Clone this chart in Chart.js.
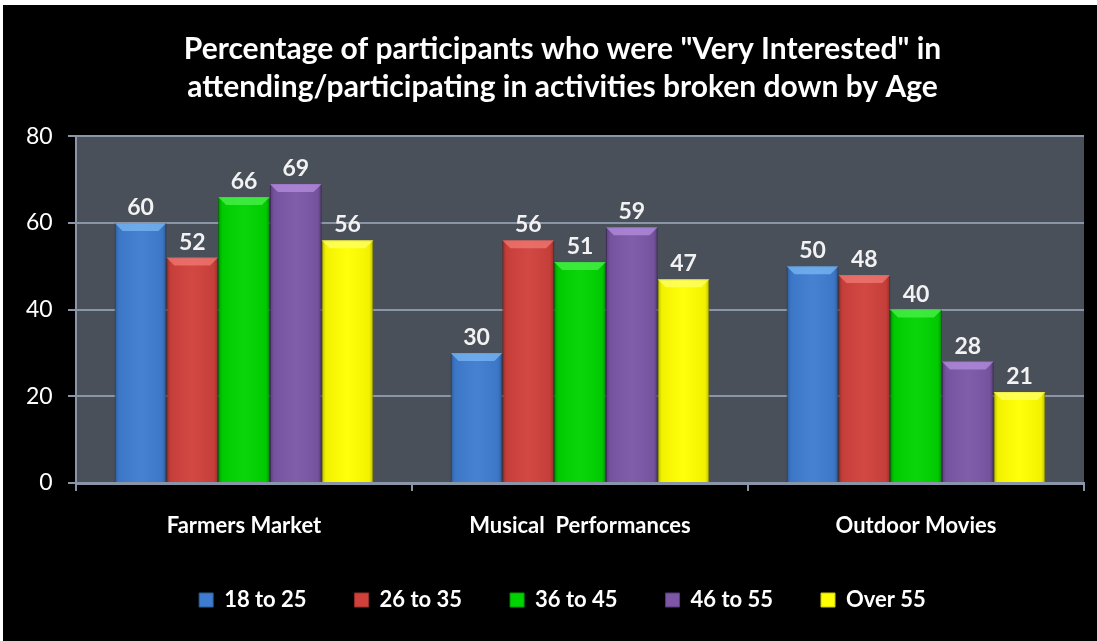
<!DOCTYPE html>
<html>
<head>
  <title>Very Interested by Age</title>
  <script src="https://cdn.jsdelivr.net/npm/chart.js"></script>
  <style>
    body {
      margin: 0;
      background: #fff;
    }
    .wrap {
      position: absolute;
      left: 3px;
      top: 5px;
      width: 1094px;
      height: 636px;
      background: #000;
    }
  </style>
</head>
<body>
  <div class="wrap">
    <canvas id="ageChart"></canvas>
  </div>

  <script>
    const categories = ['Farmers Market', 'Musical  Performances', 'Outdoor Movies'];
    const ageGroups = ['18 to 25', '26 to 35', '36 to 45', '46 to 55', 'Over 55'];
    const age18to25 = [60, 30, 50];
    const age26to35 = [52, 56, 48];
    const age36to45 = [66, 51, 40];
    const age46to55 = [69, 59, 28];
    const over55 = [56, 47, 21];
    const yTicks = [0, 20, 40, 60, 80];

    const colors = ['#3f7cd0', '#d0413c', '#00d400', '#7b57a6', '#ffff00'];
    const edgeColors = ['#2d5a98', '#98302c', '#009a00', '#56397a', '#c8c800'];
    const topColors = ['#7ab8f4', '#f27a74', '#4cf24c', '#b68de0', '#ffff66'];

    const series = [age18to25, age26to35, age36to45, age46to55, over55];
    const FONT = 'Lato, "Open Sans", sans-serif';

    const plotBg = {
      id: 'plotBg',
      beforeDraw(chart) {
        const { ctx, chartArea: a } = chart;
        ctx.save();
        ctx.fillStyle = '#4a505a';
        ctx.fillRect(a.left, a.top, a.right - a.left, a.bottom - a.top);
        ctx.restore();
      }
    };

    // bevel shading and value labels on top of each bar
    const barDeco = {
      id: 'barDeco',
      afterDatasetsDraw(chart) {
        const ctx = chart.ctx;
        chart.data.datasets.forEach((ds, i) => {
          const meta = chart.getDatasetMeta(i);
          meta.data.forEach((bar, j) => {
            const left = bar.x - bar.width / 2;
            const w = bar.width;
            const top = bar.y;
            const h = bar.base - bar.y;
            ctx.save();
            const g = ctx.createLinearGradient(left, 0, left + w, 0);
            g.addColorStop(0, 'rgba(0,0,0,0.28)');
            g.addColorStop(0.08, 'rgba(0,0,0,0.05)');
            g.addColorStop(0.5, 'rgba(255,255,255,0.04)');
            g.addColorStop(0.92, 'rgba(0,0,0,0.05)');
            g.addColorStop(1, 'rgba(0,0,0,0.28)');
            ctx.fillStyle = g;
            ctx.fillRect(left, top, w, h);
            // top bevel
            ctx.fillStyle = topColors[i];
            ctx.beginPath();
            ctx.moveTo(left, top);
            ctx.lineTo(left + w, top);
            ctx.lineTo(left + w - 8, top + 8);
            ctx.lineTo(left + 8, top + 8);
            ctx.closePath();
            ctx.globalAlpha = 0.75;
            ctx.fill();
            ctx.globalAlpha = 1;
            // label
            ctx.fillStyle = '#f2f2f2';
            ctx.font = 'bold 23px ' + FONT;
            ctx.textAlign = 'center';
            ctx.textBaseline = 'bottom';
            ctx.fillText(ds.data[j], bar.x, top - 4);
            ctx.restore();
          });
        });
      }
    };

    const ctx = document.getElementById('ageChart').getContext('2d');
    new Chart(ctx, {
      type: 'bar',
      data: {
        labels: categories,
        datasets: ageGroups.map((name, i) => ({
          label: name,
          data: series[i],
          backgroundColor: colors[i],
          borderColor: edgeColors[i],
          borderWidth: 1
        }))
      },
      options: {
        responsive: true,
        maintainAspectRatio: false,
        animation: false,
        layout: { padding: { left: 38, right: 13, top: 0, bottom: 20 } },
        datasets: { bar: { barPercentage: 1, categoryPercentage: 0.77 } },
        plugins: {
          title: {
            display: true,
            text: ['Percentage of participants who were "Very Interested" in', 'attending/participating in activities broken down by Age'],
            color: '#ffffff',
            font: { family: FONT, size: 30, weight: 'bold', lineHeight: 1.27 },
            padding: { top: 25, bottom: 30 }
          },
          legend: {
            position: 'bottom',
            labels: {
              color: '#ffffff',
              font: { family: FONT, size: 22, weight: 'bold' },
              boxWidth: 14,
              boxHeight: 14,
              padding: 48,
              generateLabels(chart) {
                return chart.data.datasets.map((ds, i) => ({
                  text: ds.label,
                  fillStyle: colors[i],
                  strokeStyle: edgeColors[i],
                  lineWidth: 1,
                  fontColor: '#ffffff',
                  datasetIndex: i
                }));
              }
            }
          },
          tooltip: { enabled: false }
        },
        scales: {
          x: {
            afterFit(scale) { scale.height = 58; },
            grid: {
              offset: true,
              drawOnChartArea: false,
              color: '#8b95a8',
              lineWidth: 2,
              tickLength: 8
            },
            border: { color: '#8b95a8', width: 3 },
            ticks: {
              color: '#ffffff',
              font: { family: FONT, size: 22, weight: 'bold' },
              padding: 22
            }
          },
          y: {
            min: 0,
            max: 80,
            afterBuildTicks(axis) {
              axis.ticks = yTicks.map(v => ({ value: v }));
            },
            afterFit(scale) { scale.width = 35; },
            grid: {
              color: '#8b95a8',
              lineWidth: 2,
              tickLength: 8
            },
            border: { color: '#8b95a8', width: 2 },
            ticks: {
              color: '#ffffff',
              font: { family: FONT, size: 23 },
              mirror: true,
              crossAlign: 'far',
              padding: -50
            }
          }
        }
      },
      plugins: [plotBg, barDeco]
    });
  </script>
</body>
</html>
